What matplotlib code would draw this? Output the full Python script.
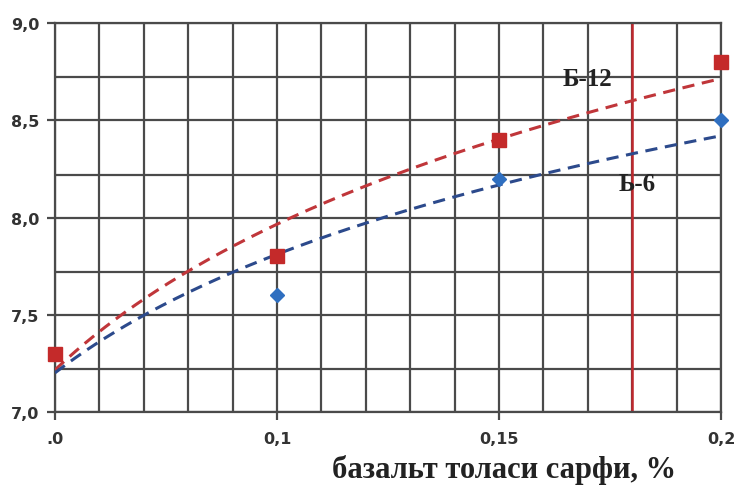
import numpy as np
import matplotlib
matplotlib.use("Agg")
import matplotlib.pyplot as plt

# data
categories = ["0", "0.1", "0.15", "0.2"]
tick_labels = [".0", "0,1", "0,15", "0,2"]
b12 = [7.3, 7.8, 8.4, 8.8]
b6 = [7.3, 7.6, 8.2, 8.5]
limit_x = 0.18

fig = plt.figure(figsize=(7.36, 4.89), dpi=100)
ax = fig.add_axes([0.0747, 0.1554, 0.905, 0.7955])

x = np.arange(len(categories))
grid_col = "#4a4a4a"

# grid: 15 vertical cells, horizontal at major + offset minor lines
for gx in np.arange(0, 3.01, 0.2):
    ax.axvline(gx, color=grid_col, lw=1.6, zorder=1)
for gy in [7.0, 7.22, 7.5, 7.72, 8.0, 8.22, 8.5, 8.72, 9.0]:
    ax.axhline(gy, color=grid_col, lw=1.6, zorder=1)

# log trendlines (like Excel) on category index 1..n
xs = np.linspace(0, 3, 200)
for ys, col in [(b12, "#c0363a"), (b6, "#2c4a8c")]:
    a, b = np.polyfit(np.log(x + 1), ys, 1)
    ax.plot(xs, a * np.log(xs + 1) + b, ls=(0, (4, 2.5)), color=col, lw=2.2, zorder=3)

ax.plot(x, b6, ls="none", marker="D", ms=7, color="#2f6fc0", zorder=4, clip_on=False)
ax.plot(x, b12, ls="none", marker="s", ms=10, color="#c42a2a", zorder=5, clip_on=False)

# vertical limit line at 0.18 (between 0.15 and 0.2)
lim_pos = 2 + (limit_x - 0.15) / 0.05
ax.axvline(lim_pos, color="#c0282d", lw=1.8, zorder=2)

ax.text(2.40, 8.715, "Б-12", fontsize=18, fontweight="bold", family="Liberation Serif",
        ha="center", va="center", color="#222222", zorder=6)
ax.text(2.62, 8.175, "Ь-6", fontsize=18, fontweight="bold", family="Liberation Serif",
        ha="center", va="center", color="#222222", zorder=6)

ax.set_xlim(0, 3)
ax.set_ylim(7.0, 9.0)
ax.set_xticks(x)
ax.set_xticklabels(tick_labels)
ax.set_yticks([7.0, 7.5, 8.0, 8.5, 9.0])
ax.set_yticklabels(["7,0", "7,5", "8,0", "8,5", "9,0"])
ax.tick_params(axis="both", length=6, width=1.6, color=grid_col, labelsize=11.5,
               labelcolor="#333333")
ax.tick_params(axis="x", pad=8)
ax.tick_params(axis="y", pad=5)
for lab in ax.get_xticklabels() + ax.get_yticklabels():
    lab.set_fontweight("bold")
for s in ax.spines.values():
    s.set_color(grid_col)
    s.set_linewidth(1.6)

fig.text(676 / 736, 1 - 470 / 489, "базальт толаси сарфи, %", fontsize=22,
         fontweight="bold", family="Liberation Serif", ha="right", va="center",
         color="#222222")

fig.savefig("out.png", dpi=100)
